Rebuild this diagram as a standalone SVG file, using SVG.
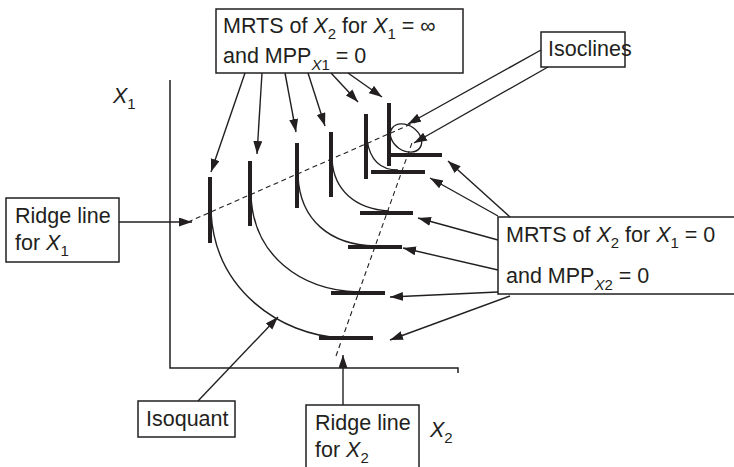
<svg xmlns="http://www.w3.org/2000/svg" width="734" height="467" viewBox="0 0 734 467">
<defs>
<style>
.t{font-family:"Liberation Sans",Arial,sans-serif;font-size:21.5px;fill:#231f20}
.s{font-size:15px}
.i{font-style:italic}
.box{fill:#fff;stroke:#231f20;stroke-width:1.5}
.ax{fill:none;stroke:#231f20;stroke-width:1.5}
.bar{stroke:#231f20;stroke-width:4;fill:none}
.cur{fill:none;stroke:#231f20;stroke-width:1.4}
.dash{fill:none;stroke:#231f20;stroke-width:1.1;stroke-dasharray:5,3.5}
.ar{fill:none;stroke:#231f20;stroke-width:1.4;marker-end:url(#ah)}
</style>
<marker id="ah" markerUnits="userSpaceOnUse" markerWidth="14" markerHeight="10" refX="13" refY="4.5" orient="auto">
<path d="M0,0 L13,4.5 L0,9 Z" fill="#231f20"/>
</marker>
</defs>
<rect width="734" height="467" fill="#fff"/>

<g id="axes">
<path class="ax" d="M170,80 V368 H458 V373"/>
<text class="t" x="113" y="103"><tspan class="i">X</tspan><tspan class="s" dy="6">1</tspan></text>
<text class="t" x="430" y="437"><tspan class="i">X</tspan><tspan class="s" dy="6">2</tspan></text>
</g>

<g id="ridge-lines">
<path class="dash" d="M188,222 L418,121"/>
<path class="dash" d="M336,356 L413,140"/>
</g>

<g id="isoquants">
<path class="cur" d="M211,212 C215,290 280,335 342,338"/>
<path class="cur" d="M251,195 C253,255 300,290 358,292"/>
<path class="cur" d="M298,176 C300,220 330,245 375,246"/>
<path class="cur" d="M332,160 C334,190 355,209 389,211"/>
<path class="cur" d="M367,140 C370,160 380,170 398,170"/>
<ellipse class="cur" cx="406" cy="138" rx="17" ry="12.5" transform="rotate(35 406 138)"/>
</g>

<g id="bars">
<path class="bar" d="M210,177 V243 M250,161 V226 M297,143 V208 M331,132 V197 M366,114 V179 M389,103 V166"/>
<path class="bar" d="M389,155 H442 M371,172 H425 M360,213 H413 M348,247 H402 M331,293 H385 M319,338 H373"/>
</g>

<g id="box-top">
<rect class="box" x="216" y="9" width="247" height="64"/>
<text class="t" x="223" y="33">MRTS of <tspan class="i">X</tspan><tspan class="s" dy="6">2</tspan><tspan dy="-6"> for </tspan><tspan class="i">X</tspan><tspan class="s" dy="6">1</tspan><tspan dy="-6"> = ∞</tspan></text>
<text class="t" x="223" y="63">and MPP<tspan class="s" dy="7"><tspan class="i">X</tspan>1</tspan><tspan dy="-7"> = 0</tspan></text>
</g>

<g id="box-isoclines">
<rect class="box" x="541" y="32" width="84" height="35"/>
<text class="t" x="548" y="56">Isoclines</text>
</g>

<g id="box-ridge-x1">
<rect class="box" x="6" y="198" width="113" height="64"/>
<text class="t" x="15" y="223">Ridge line</text>
<text class="t" x="15" y="250">for <tspan class="i">X</tspan><tspan class="s" dy="6">1</tspan></text>
</g>

<g id="box-right">
<rect class="box" x="498" y="217" width="245" height="77"/>
<text class="t" x="506" y="242">MRTS of <tspan class="i">X</tspan><tspan class="s" dy="6">2</tspan><tspan dy="-6"> for </tspan><tspan class="i">X</tspan><tspan class="s" dy="6">1</tspan><tspan dy="-6"> = 0</tspan></text>
<text class="t" x="506" y="283">and MPP<tspan class="s" dy="7"><tspan class="i">X</tspan>2</tspan><tspan dy="-7"> = 0</tspan></text>
</g>

<g id="box-isoquant">
<rect class="box" x="138" y="401" width="97" height="36"/>
<text class="t" x="146" y="426">Isoquant</text>
</g>

<g id="box-ridge-x2">
<rect class="box" x="306" y="405" width="113" height="70"/>
<text class="t" x="315" y="430">Ridge line</text>
<text class="t" x="315" y="457">for <tspan class="i">X</tspan><tspan class="s" dy="6">2</tspan></text>
</g>

<g id="connectors">
<path class="ar" d="M245,73 L211,172"/>
<path class="ar" d="M262,73 L257,154"/>
<path class="ar" d="M285,73 L296,132"/>
<path class="ar" d="M308,73 L325,126"/>
<path class="ar" d="M331,73 L358,102"/>
<path class="ar" d="M348,73 L382,97"/>
<path class="ar" d="M541,50 L408,124"/>
<path class="ar" d="M548,67 L414,143"/>
<path class="ar" d="M119,222 L192,222"/>
<path class="ar" d="M510,217 L448,161"/>
<path class="ar" d="M498,216 L430,178"/>
<path class="ar" d="M498,240 L418,218"/>
<path class="ar" d="M498,270 L403,248"/>
<path class="ar" d="M498,292 L390,297"/>
<path class="ar" d="M510,296 L390,340"/>
<path class="ar" d="M198,401 L278,317"/>
<path class="ar" d="M343,405 L343,355"/>
</g>
</svg>
